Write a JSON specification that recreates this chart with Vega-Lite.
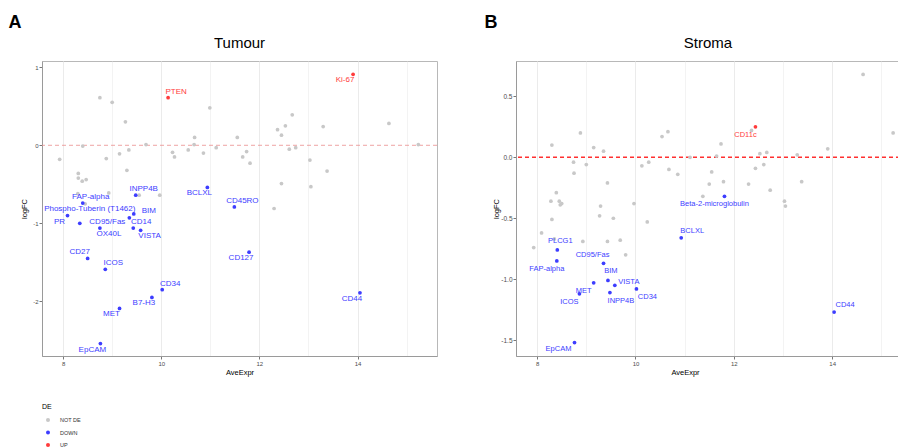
{
  "$schema": "https://vega.github.io/schema/vega-lite/v6.json",
  "padding": {"left": 8, "top": 13, "right": 0, "bottom": 0},
  "autosize": {"type": "pad"},
  "background": "white",
  "config": {
    "font": "Liberation Sans",
    "view": {"stroke": "#b8b8b8", "strokeWidth": 1},
    "axis": {
      "domainColor": "#9a9a9a",
      "domainWidth": 1,
      "gridColor": "#ebebeb",
      "tickColor": "#555555",
      "tickSize": 3,
      "tickWidth": 0.8,
      "labelFontSize": 6,
      "labelColor": "#4d4d4d",
      "labelPadding": 1,
      "titleFontSize": 7.5,
      "titleFontWeight": "normal",
      "titleColor": "#000000"
    },
    "title": {"color": "#000000"}
  },
  "datasets": {
    "tumour": [
      {"AveExpr": 7.93, "logFC": -0.18, "DE": "NOT DE"},
      {"AveExpr": 8.75, "logFC": 0.61, "DE": "NOT DE"},
      {"AveExpr": 9.0, "logFC": 0.55, "DE": "NOT DE"},
      {"AveExpr": 9.27, "logFC": 0.3, "DE": "NOT DE"},
      {"AveExpr": 8.4, "logFC": -0.01, "DE": "NOT DE"},
      {"AveExpr": 8.88, "logFC": -0.17, "DE": "NOT DE"},
      {"AveExpr": 9.15, "logFC": -0.11, "DE": "NOT DE"},
      {"AveExpr": 9.34, "logFC": -0.06, "DE": "NOT DE"},
      {"AveExpr": 9.3, "logFC": -0.32, "DE": "NOT DE"},
      {"AveExpr": 9.69, "logFC": 0.01, "DE": "NOT DE"},
      {"AveExpr": 8.31, "logFC": -0.36, "DE": "NOT DE"},
      {"AveExpr": 8.31, "logFC": -0.42, "DE": "NOT DE"},
      {"AveExpr": 8.39, "logFC": -0.46, "DE": "NOT DE"},
      {"AveExpr": 8.47, "logFC": -0.44, "DE": "NOT DE"},
      {"AveExpr": 8.93, "logFC": -0.61, "DE": "NOT DE"},
      {"AveExpr": 8.3, "logFC": -0.62, "DE": "NOT DE"},
      {"AveExpr": 9.55, "logFC": -0.64, "DE": "NOT DE"},
      {"AveExpr": 9.97, "logFC": -0.64, "DE": "NOT DE"},
      {"AveExpr": 10.23, "logFC": -0.09, "DE": "NOT DE"},
      {"AveExpr": 10.27, "logFC": -0.15, "DE": "NOT DE"},
      {"AveExpr": 10.55, "logFC": -0.06, "DE": "NOT DE"},
      {"AveExpr": 10.68, "logFC": 0.1, "DE": "NOT DE"},
      {"AveExpr": 10.67, "logFC": 0.01, "DE": "NOT DE"},
      {"AveExpr": 10.86, "logFC": -0.1, "DE": "NOT DE"},
      {"AveExpr": 10.99, "logFC": 0.48, "DE": "NOT DE"},
      {"AveExpr": 11.12, "logFC": -0.03, "DE": "NOT DE"},
      {"AveExpr": 8.45, "logFC": -0.75, "DE": "NOT DE"},
      {"AveExpr": 11.55, "logFC": 0.1, "DE": "NOT DE"},
      {"AveExpr": 11.74, "logFC": -0.08, "DE": "NOT DE"},
      {"AveExpr": 11.66, "logFC": -0.15, "DE": "NOT DE"},
      {"AveExpr": 11.81, "logFC": -0.23, "DE": "NOT DE"},
      {"AveExpr": 12.37, "logFC": 0.2, "DE": "NOT DE"},
      {"AveExpr": 12.53, "logFC": 0.25, "DE": "NOT DE"},
      {"AveExpr": 12.67, "logFC": 0.39, "DE": "NOT DE"},
      {"AveExpr": 12.45, "logFC": 0.13, "DE": "NOT DE"},
      {"AveExpr": 12.61, "logFC": -0.05, "DE": "NOT DE"},
      {"AveExpr": 12.74, "logFC": -0.03, "DE": "NOT DE"},
      {"AveExpr": 13.03, "logFC": -0.19, "DE": "NOT DE"},
      {"AveExpr": 13.3, "logFC": 0.24, "DE": "NOT DE"},
      {"AveExpr": 13.38, "logFC": -0.33, "DE": "NOT DE"},
      {"AveExpr": 12.45, "logFC": -0.49, "DE": "NOT DE"},
      {"AveExpr": 13.05, "logFC": -0.53, "DE": "NOT DE"},
      {"AveExpr": 12.3, "logFC": -0.81, "DE": "NOT DE"},
      {"AveExpr": 14.64, "logFC": 0.28, "DE": "NOT DE"},
      {"AveExpr": 15.24, "logFC": 0.01, "DE": "NOT DE"},
      {"gene": "PTEN", "AveExpr": 10.14, "logFC": 0.61, "DE": "UP"},
      {"gene": "Ki-67", "AveExpr": 13.91, "logFC": 0.91, "DE": "UP"},
      {"gene": "INPP4B", "AveExpr": 9.48, "logFC": -0.64, "DE": "DOWN"},
      {"gene": "BCLXL", "AveExpr": 10.94, "logFC": -0.54, "DE": "DOWN"},
      {"gene": "FAP-alpha", "AveExpr": 8.4, "logFC": -0.74, "DE": "DOWN"},
      {"gene": "PR", "AveExpr": 8.09, "logFC": -0.9, "DE": "DOWN"},
      {"gene": "Phospho-Tuberin (T1462)", "AveExpr": 8.34, "logFC": -1.0, "DE": "DOWN"},
      {"gene": "BIM", "AveExpr": 9.44, "logFC": -0.88, "DE": "DOWN"},
      {"gene": "CD95/Fas", "AveExpr": 9.35, "logFC": -0.93, "DE": "DOWN"},
      {"gene": "CD14", "AveExpr": 9.43, "logFC": -1.06, "DE": "DOWN"},
      {"gene": "OX40L", "AveExpr": 8.75, "logFC": -1.06, "DE": "DOWN"},
      {"gene": "VISTA", "AveExpr": 9.58, "logFC": -1.09, "DE": "DOWN"},
      {"gene": "CD27", "AveExpr": 8.5, "logFC": -1.45, "DE": "DOWN"},
      {"gene": "ICOS", "AveExpr": 8.86, "logFC": -1.59, "DE": "DOWN"},
      {"gene": "CD34", "AveExpr": 10.02, "logFC": -1.85, "DE": "DOWN"},
      {"gene": "B7-H3", "AveExpr": 9.81, "logFC": -1.95, "DE": "DOWN"},
      {"gene": "MET", "AveExpr": 9.15, "logFC": -2.09, "DE": "DOWN"},
      {"gene": "EpCAM", "AveExpr": 8.76, "logFC": -2.54, "DE": "DOWN"},
      {"gene": "CD45RO", "AveExpr": 11.49, "logFC": -0.79, "DE": "DOWN"},
      {"gene": "CD127", "AveExpr": 11.79, "logFC": -1.37, "DE": "DOWN"},
      {"gene": "CD44", "AveExpr": 14.05, "logFC": -1.89, "DE": "DOWN"}
    ],
    "stroma": [
      {"AveExpr": 8.3, "logFC": 0.1, "DE": "NOT DE"},
      {"AveExpr": 8.88, "logFC": 0.2, "DE": "NOT DE"},
      {"AveExpr": 9.15, "logFC": 0.08, "DE": "NOT DE"},
      {"AveExpr": 9.35, "logFC": 0.05, "DE": "NOT DE"},
      {"AveExpr": 8.74, "logFC": -0.04, "DE": "NOT DE"},
      {"AveExpr": 9.0, "logFC": -0.06, "DE": "NOT DE"},
      {"AveExpr": 8.75, "logFC": -0.13, "DE": "NOT DE"},
      {"AveExpr": 9.43, "logFC": -0.21, "DE": "NOT DE"},
      {"AveExpr": 8.39, "logFC": -0.29, "DE": "NOT DE"},
      {"AveExpr": 8.28, "logFC": -0.36, "DE": "NOT DE"},
      {"AveExpr": 8.45, "logFC": -0.36, "DE": "NOT DE"},
      {"AveExpr": 8.47, "logFC": -0.39, "DE": "NOT DE"},
      {"AveExpr": 8.5, "logFC": -0.38, "DE": "NOT DE"},
      {"AveExpr": 9.29, "logFC": -0.4, "DE": "NOT DE"},
      {"AveExpr": 9.27, "logFC": -0.48, "DE": "NOT DE"},
      {"AveExpr": 8.3, "logFC": -0.51, "DE": "NOT DE"},
      {"AveExpr": 9.55, "logFC": -0.5, "DE": "NOT DE"},
      {"AveExpr": 9.97, "logFC": -0.38, "DE": "NOT DE"},
      {"AveExpr": 10.13, "logFC": -0.07, "DE": "NOT DE"},
      {"AveExpr": 10.27, "logFC": -0.04, "DE": "NOT DE"},
      {"AveExpr": 10.54, "logFC": 0.17, "DE": "NOT DE"},
      {"AveExpr": 10.66, "logFC": 0.21, "DE": "NOT DE"},
      {"AveExpr": 10.68, "logFC": -0.1, "DE": "NOT DE"},
      {"AveExpr": 10.86, "logFC": -0.14, "DE": "NOT DE"},
      {"AveExpr": 11.11, "logFC": 0.0, "DE": "NOT DE"},
      {"AveExpr": 10.24, "logFC": -0.53, "DE": "NOT DE"},
      {"AveExpr": 8.09, "logFC": -0.62, "DE": "NOT DE"},
      {"AveExpr": 7.93, "logFC": -0.74, "DE": "NOT DE"},
      {"AveExpr": 8.35, "logFC": -0.67, "DE": "NOT DE"},
      {"AveExpr": 8.93, "logFC": -0.69, "DE": "NOT DE"},
      {"AveExpr": 9.43, "logFC": -0.69, "DE": "NOT DE"},
      {"AveExpr": 9.69, "logFC": -0.68, "DE": "NOT DE"},
      {"AveExpr": 9.8, "logFC": -0.8, "DE": "NOT DE"},
      {"AveExpr": 12.36, "logFC": 0.22, "DE": "NOT DE"},
      {"AveExpr": 11.74, "logFC": 0.11, "DE": "NOT DE"},
      {"AveExpr": 11.65, "logFC": 0.01, "DE": "NOT DE"},
      {"AveExpr": 11.55, "logFC": -0.12, "DE": "NOT DE"},
      {"AveExpr": 11.5, "logFC": -0.22, "DE": "NOT DE"},
      {"AveExpr": 11.79, "logFC": -0.2, "DE": "NOT DE"},
      {"AveExpr": 11.37, "logFC": -0.32, "DE": "NOT DE"},
      {"AveExpr": 12.53, "logFC": 0.03, "DE": "NOT DE"},
      {"AveExpr": 12.67, "logFC": 0.04, "DE": "NOT DE"},
      {"AveExpr": 12.61, "logFC": -0.06, "DE": "NOT DE"},
      {"AveExpr": 12.44, "logFC": -0.09, "DE": "NOT DE"},
      {"AveExpr": 12.3, "logFC": -0.22, "DE": "NOT DE"},
      {"AveExpr": 12.74, "logFC": -0.27, "DE": "NOT DE"},
      {"AveExpr": 13.29, "logFC": 0.02, "DE": "NOT DE"},
      {"AveExpr": 13.38, "logFC": -0.2, "DE": "NOT DE"},
      {"AveExpr": 13.03, "logFC": -0.36, "DE": "NOT DE"},
      {"AveExpr": 13.05, "logFC": -0.4, "DE": "NOT DE"},
      {"AveExpr": 13.91, "logFC": 0.07, "DE": "NOT DE"},
      {"AveExpr": 14.63, "logFC": 0.68, "DE": "NOT DE"},
      {"AveExpr": 15.24, "logFC": 0.2, "DE": "NOT DE"},
      {"gene": "CD11c", "AveExpr": 12.44, "logFC": 0.25, "DE": "UP"},
      {"gene": "Beta-2-microglobulin", "AveExpr": 11.81, "logFC": -0.32, "DE": "DOWN"},
      {"gene": "BCLXL", "AveExpr": 10.93, "logFC": -0.66, "DE": "DOWN"},
      {"gene": "PLCG1", "AveExpr": 8.41, "logFC": -0.76, "DE": "DOWN"},
      {"gene": "FAP-alpha", "AveExpr": 8.4, "logFC": -0.85, "DE": "DOWN"},
      {"gene": "CD95/Fas", "AveExpr": 9.35, "logFC": -0.87, "DE": "DOWN"},
      {"gene": "BIM", "AveExpr": 9.44, "logFC": -1.01, "DE": "DOWN"},
      {"gene": "MET", "AveExpr": 9.15, "logFC": -1.03, "DE": "DOWN"},
      {"gene": "VISTA", "AveExpr": 9.58, "logFC": -1.05, "DE": "DOWN"},
      {"gene": "ICOS", "AveExpr": 8.86, "logFC": -1.12, "DE": "DOWN"},
      {"gene": "INPP4B", "AveExpr": 9.48, "logFC": -1.11, "DE": "DOWN"},
      {"gene": "CD34", "AveExpr": 10.02, "logFC": -1.08, "DE": "DOWN"},
      {"gene": "EpCAM", "AveExpr": 8.76, "logFC": -1.52, "DE": "DOWN"},
      {"gene": "CD44", "AveExpr": 14.04, "logFC": -1.27, "DE": "DOWN"}
    ]
  },
  "resolve": {"scale": {"x": "independent", "y": "independent"}},
  "spacing": 46,
  "hconcat": [
    {
      "title": {"text": "A", "anchor": "start", "fontSize": 18, "fontWeight": "bold", "dx": -11, "offset": 4},
      "hconcat": [
        {
          "width": 395,
          "height": 295,
          "title": {"text": "Tumour", "fontSize": 15, "fontWeight": "normal", "anchor": "middle", "offset": 10},
          "data": {"name": "tumour"},
          "layer": [
            {
              "data": {"values": [{}]},
              "mark": {"type": "rule", "color": "#ea8c8c", "strokeWidth": 0.8, "strokeDash": [4, 3]},
              "encoding": {"y": {"datum": 0, "type": "quantitative"}}
            },
            {
              "mark": {"type": "circle", "size": 14, "opacity": 1},
              "encoding": {
                "x": {"field": "AveExpr", "type": "quantitative", "title": "AveExpr",
                  "scale": {"domain": [7.57, 15.62], "nice": false, "zero": false},
                  "axis": {"values": [8, 9, 10, 11, 12, 13, 14, 15], "titlePadding": 2,
                    "labelExpr": "datum.value % 2 === 0 ? '' + datum.value : ''",
                    "tickOpacity": {"condition": {"test": "datum.value % 2 === 0", "value": 1}, "value": 0},
                    "gridWidth": {"condition": {"test": "datum.value % 2 === 0", "value": 1}, "value": 0.6}}},
                "y": {"field": "logFC", "type": "quantitative", "title": "logFC",
                  "scale": {"domain": [-2.7, 1.08], "nice": false, "zero": false},
                  "axis": {"values": [1, 0.5, 0, -0.5, -1, -1.5, -2, -2.5], "minExtent": 10, "maxExtent": 10, "titlePadding": 4,
                    "labelExpr": "datum.value % 1 === 0 ? '' + datum.value : ''",
                    "tickOpacity": {"condition": {"test": "datum.value % 1 === 0", "value": 1}, "value": 0},
                    "gridWidth": {"condition": {"test": "datum.value % 1 === 0", "value": 1}, "value": 0.6}}},
                "color": {"field": "DE", "type": "nominal",
                  "scale": {"domain": ["NOT DE", "DOWN", "UP"], "range": ["#c8c8c8", "#3d3dff", "#ff3b3b"]},
                  "legend": {"orient": "none", "legendX": 0, "legendY": 342, "padding": 0, "title": "DE", "titleFontSize": 7, "titleFontWeight": "normal", "titleColor": "#000", "titlePadding": 7, "labelFontSize": 5.5, "labelColor": "#333", "labelOffset": 9, "symbolOffset": 3, "symbolSize": 16, "symbolType": "circle", "rowPadding": 5.5}}
              }
            },
            {
              "transform": [{"filter": {"field": "gene", "oneOf": ["PTEN", "INPP4B", "FAP-alpha", "CD14", "ICOS", "CD34", "CD45RO"]}}],
              "mark": {"type": "text", "dx": 8, "dy": -6, "fontSize": 8},
              "encoding": {"x": {"field": "AveExpr", "type": "quantitative"}, "y": {"field": "logFC", "type": "quantitative"}, "text": {"field": "gene"},
                "color": {"condition": {"test": "datum.DE === 'UP'", "value": "#ff3b3b"}, "value": "#3d3dff"}}
            },
            {
              "transform": [{"filter": {"field": "gene", "oneOf": ["Ki-67", "BCLXL", "PR", "B7-H3", "MET", "EpCAM", "CD127", "CD44"]}}],
              "mark": {"type": "text", "dx": -8, "dy": 6, "fontSize": 8},
              "encoding": {"x": {"field": "AveExpr", "type": "quantitative"}, "y": {"field": "logFC", "type": "quantitative"}, "text": {"field": "gene"},
                "color": {"condition": {"test": "datum.DE === 'UP'", "value": "#ff3b3b"}, "value": "#3d3dff"}}
            },
            {
              "transform": [{"filter": {"field": "gene", "oneOf": ["CD27"]}}],
              "mark": {"type": "text", "dx": -8, "dy": -6, "fontSize": 8},
              "encoding": {"x": {"field": "AveExpr", "type": "quantitative"}, "y": {"field": "logFC", "type": "quantitative"}, "text": {"field": "gene"},
                "color": {"value": "#3d3dff"}}
            },
            {
              "transform": [{"filter": {"field": "gene", "oneOf": ["OX40L", "VISTA"]}}],
              "mark": {"type": "text", "dx": 9, "dy": 6, "fontSize": 8},
              "encoding": {"x": {"field": "AveExpr", "type": "quantitative"}, "y": {"field": "logFC", "type": "quantitative"}, "text": {"field": "gene"},
                "color": {"value": "#3d3dff"}}
            },
            {
              "transform": [{"filter": {"field": "gene", "oneOf": ["Phospho-Tuberin (T1462)"]}}],
              "mark": {"type": "text", "dx": 10, "dy": -14, "fontSize": 8},
              "encoding": {"x": {"field": "AveExpr", "type": "quantitative"}, "y": {"field": "logFC", "type": "quantitative"}, "text": {"field": "gene"},
                "color": {"value": "#3d3dff"}}
            },
            {
              "transform": [{"filter": {"field": "gene", "oneOf": ["BIM"]}}],
              "mark": {"type": "text", "dx": 15, "dy": -3, "fontSize": 8},
              "encoding": {"x": {"field": "AveExpr", "type": "quantitative"}, "y": {"field": "logFC", "type": "quantitative"}, "text": {"field": "gene"},
                "color": {"value": "#3d3dff"}}
            },
            {
              "transform": [{"filter": {"field": "gene", "oneOf": ["CD95/Fas"]}}],
              "mark": {"type": "text", "dx": -22, "dy": 4, "fontSize": 8},
              "encoding": {"x": {"field": "AveExpr", "type": "quantitative"}, "y": {"field": "logFC", "type": "quantitative"}, "text": {"field": "gene"},
                "color": {"value": "#3d3dff"}}
            }
          ]
        }
      ]
    },
    {
      "title": {"text": "B", "anchor": "start", "fontSize": 18, "fontWeight": "bold", "dx": -7, "offset": 4},
      "hconcat": [
        {
          "width": 384,
          "height": 295,
          "title": {"text": "Stroma", "fontSize": 15, "fontWeight": "normal", "anchor": "middle", "offset": 10},
          "data": {"name": "stroma"},
          "layer": [
            {
              "data": {"values": [{}]},
              "mark": {"type": "rule", "stroke": "#ff3030", "strokeOpacity": 1, "strokeWidth": 1.4, "strokeDash": [4, 3]},
              "encoding": {"y": {"datum": 0, "type": "quantitative"}}
            },
            {
              "mark": {"type": "circle", "size": 14, "opacity": 1},
              "encoding": {
                "x": {"field": "AveExpr", "type": "quantitative", "title": "AveExpr",
                  "scale": {"domain": [7.57, 15.38], "nice": false, "zero": false},
                  "axis": {"values": [8, 9, 10, 11, 12, 13, 14, 15], "titlePadding": 2, "titleX": 169,
                    "labelExpr": "datum.value % 2 === 0 ? '' + datum.value : ''",
                    "tickOpacity": {"condition": {"test": "datum.value % 2 === 0", "value": 1}, "value": 0},
                    "gridWidth": {"condition": {"test": "datum.value % 2 === 0", "value": 1}, "value": 0.6}}},
                "y": {"field": "logFC", "type": "quantitative", "title": "logFC",
                  "scale": {"domain": [-1.63, 0.79], "nice": false, "zero": false},
                  "axis": {"values": [0.75, 0.5, 0.25, 0, -0.25, -0.5, -0.75, -1, -1.25, -1.5], "minExtent": 13, "maxExtent": 13, "titlePadding": 3,
                    "labelFontSize": 6.5,
                    "labelExpr": "(datum.value * 2) % 1 === 0 ? replace(format(datum.value, '.1f'), '\u2212', '-') : ''",
                    "tickOpacity": {"condition": {"test": "(datum.value * 2) % 1 === 0", "value": 1}, "value": 0},
                    "gridWidth": {"condition": {"test": "(datum.value * 2) % 1 === 0", "value": 1}, "value": 0.6}}},
                "color": {"field": "DE", "type": "nominal",
                  "scale": {"domain": ["NOT DE", "DOWN", "UP"], "range": ["#c8c8c8", "#3d3dff", "#ff3b3b"]}}
              }
            },
            {
              "transform": [{"filter": {"field": "gene", "oneOf": ["BCLXL", "CD44"]}}],
              "mark": {"type": "text", "dx": 11, "dy": -7, "fontSize": 7.5},
              "encoding": {"x": {"field": "AveExpr", "type": "quantitative"}, "y": {"field": "logFC", "type": "quantitative"}, "text": {"field": "gene"},
                "color": {"value": "#3d3dff"}}
            },
            {
              "transform": [{"filter": {"field": "gene", "oneOf": ["PLCG1", "BIM"]}}],
              "mark": {"type": "text", "dx": 3, "dy": -9, "fontSize": 7.5},
              "encoding": {"x": {"field": "AveExpr", "type": "quantitative"}, "y": {"field": "logFC", "type": "quantitative"}, "text": {"field": "gene"},
                "color": {"value": "#3d3dff"}}
            },
            {
              "transform": [{"filter": {"field": "gene", "oneOf": ["CD11c", "Beta-2-microglobulin", "FAP-alpha", "ICOS", "MET"]}}],
              "mark": {"type": "text", "dx": -10, "dy": 8, "fontSize": 7.5},
              "encoding": {"x": {"field": "AveExpr", "type": "quantitative"}, "y": {"field": "logFC", "type": "quantitative"}, "text": {"field": "gene"},
                "color": {"condition": {"test": "datum.DE === 'UP'", "value": "#ff3b3b"}, "value": "#3d3dff"}}
            },
            {
              "transform": [{"filter": {"field": "gene", "oneOf": ["EpCAM"]}}],
              "mark": {"type": "text", "dx": -16, "dy": 6, "fontSize": 7.5},
              "encoding": {"x": {"field": "AveExpr", "type": "quantitative"}, "y": {"field": "logFC", "type": "quantitative"}, "text": {"field": "gene"},
                "color": {"value": "#3d3dff"}}
            },
            {
              "transform": [{"filter": {"field": "gene", "oneOf": ["CD95/Fas"]}}],
              "mark": {"type": "text", "dx": -11, "dy": -8, "fontSize": 7.5},
              "encoding": {"x": {"field": "AveExpr", "type": "quantitative"}, "y": {"field": "logFC", "type": "quantitative"}, "text": {"field": "gene"},
                "color": {"value": "#3d3dff"}}
            },
            {
              "transform": [{"filter": {"field": "gene", "oneOf": ["VISTA"]}}],
              "mark": {"type": "text", "dx": 14, "dy": -3, "fontSize": 7.5},
              "encoding": {"x": {"field": "AveExpr", "type": "quantitative"}, "y": {"field": "logFC", "type": "quantitative"}, "text": {"field": "gene"},
                "color": {"value": "#3d3dff"}}
            },
            {
              "transform": [{"filter": {"field": "gene", "oneOf": ["INPP4B", "CD34"]}}],
              "mark": {"type": "text", "dx": 11, "dy": 8, "fontSize": 7.5},
              "encoding": {"x": {"field": "AveExpr", "type": "quantitative"}, "y": {"field": "logFC", "type": "quantitative"}, "text": {"field": "gene"},
                "color": {"value": "#3d3dff"}}
            }
          ]
        }
      ]
    }
  ]
}
